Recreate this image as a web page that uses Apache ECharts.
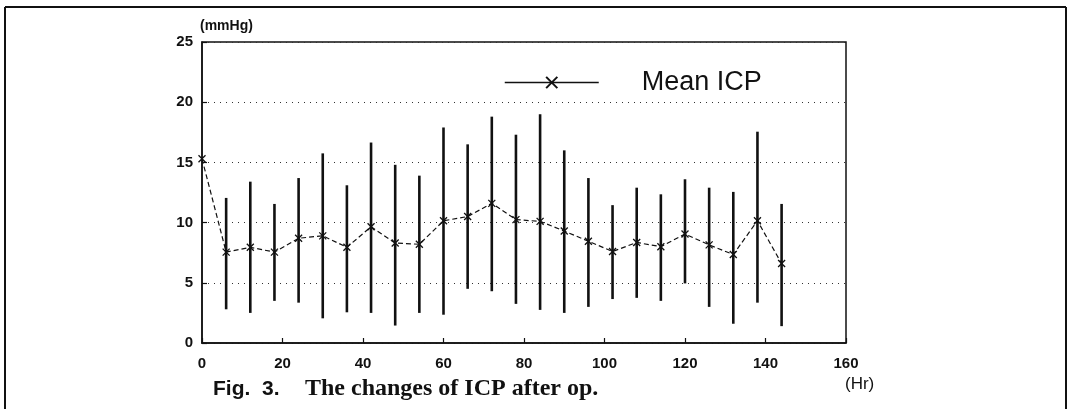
<!DOCTYPE html>
<html>
<head>
<meta charset="utf-8">
<script src="https://cdn.jsdelivr.net/npm/echarts@6/dist/echarts.min.js"></script>
<style>
html,body{margin:0;padding:0;background:#fff;}
#c{width:1069px;height:409px;}
</style>
</head>
<body>
<div id="c"></div>
<script>
// Hours after operation
const hours = [0, 6, 12, 18, 24, 30, 36, 42, 48, 54, 60, 66, 72, 78, 84, 90, 96, 102, 108, 114, 120, 126, 132, 138, 144];
// Mean ICP (mmHg)
const meanICP = [15.3, 7.55, 7.95, 7.55, 8.7, 8.9, 7.95, 9.65, 8.3, 8.2, 10.15, 10.5, 11.6, 10.25, 10.1, 9.3, 8.45, 7.6, 8.35, 8.0, 9.05, 8.15, 7.35, 10.15, 6.6];
// Range upper / lower (mmHg); null where no bar
const rangeHigh = [null, 12.05, 13.4, 11.55, 13.7, 15.75, 13.1, 16.65, 14.8, 13.9, 17.9, 16.5, 18.8, 17.3, 19.0, 16.0, 13.7, 11.45, 12.9, 12.35, 13.6, 12.9, 12.55, 17.55, 11.55];
const rangeLow  = [null, 2.8, 2.5, 3.5, 3.35, 2.05, 2.55, 2.5, 1.45, 2.5, 2.35, 4.5, 4.3, 3.25, 2.75, 2.5, 3.0, 3.65, 3.75, 3.5, 4.95, 3.0, 1.6, 3.35, 1.4];
const xTicks = [0, 20, 40, 60, 80, 100, 120, 140, 160];
const yTicks = [0, 5, 10, 15, 20, 25];

const meanData = hours.map((h, i) => [h, meanICP[i]]);
const rangeData = [];
hours.forEach((h, i) => { if (rangeHigh[i] != null) rangeData.push([h, rangeLow[i], rangeHigh[i]]); });

const chart = echarts.init(document.getElementById('c'));
const axisFont = {fontFamily: 'Liberation Sans, Arial, sans-serif', fontWeight: 'bold', fontSize: 15, color: '#111'};

chart.setOption({
  animation: false,
  backgroundColor: '#fff',
  grid: {left: 202, right: 223, top: 42, bottom: 66, show: true, borderColor: '#111', borderWidth: 1.5, backgroundColor: 'transparent'},
  xAxis: {
    type: 'value', min: xTicks[0], max: xTicks[xTicks.length - 1], interval: 20,
    axisLine: {show: true, lineStyle: {color: '#111', width: 1.5}},
    axisTick: {show: true, inside: true, length: 5, lineStyle: {color: '#111', width: 1.2}},
    axisLabel: Object.assign({margin: 13}, axisFont),
    splitLine: {show: false}
  },
  yAxis: {
    type: 'value', min: yTicks[0], max: yTicks[yTicks.length - 1], interval: 5,
    axisLine: {show: true, lineStyle: {color: '#111', width: 1.5}},
    axisTick: {show: true, inside: true, length: 5, lineStyle: {color: '#111', width: 1.2}},
    axisLabel: Object.assign({margin: 9}, axisFont),
    splitLine: {show: true, lineStyle: {color: '#333', width: 1, type: [1, 5]}}
  },
  legend: {
    data: ['Mean ICP'],
    left: 499, top: 64,
    itemWidth: 94, itemHeight: 14,
    lineStyle: {type: 'solid', width: 1.5, color: '#111'},
    textStyle: {fontFamily: 'Liberation Sans, Arial, sans-serif', fontSize: 27, color: '#111', padding: [0, 0, 0, 38]}
  },
  series: [
    {
      name: 'range', type: 'custom',
      data: rangeData,
      encode: {x: 0, y: [1, 2]},
      renderItem: function (params, api) {
        const p1 = api.coord([api.value(0), api.value(1)]);
        const p2 = api.coord([api.value(0), api.value(2)]);
        return {type: 'line', shape: {x1: p1[0], y1: p1[1], x2: p2[0], y2: p2[1]}, style: {stroke: '#111', lineWidth: 2.6}};
      },
      z: 2
    },
    {
      name: 'Mean ICP', type: 'line',
      data: meanData,
      symbol: 'path://M0,0L10,10M10,0L0,10',
      symbolSize: 7,
      itemStyle: {color: '#111', borderColor: '#111', borderWidth: 1.3},
      lineStyle: {color: '#111', width: 1.2, type: [5, 3]},
      z: 3
    }
  ],
  graphic: [
    {type: 'line', shape: {x1: 5, y1: 7, x2: 1066, y2: 7}, style: {stroke: '#111', lineWidth: 2}},
    {type: 'line', shape: {x1: 5, y1: 7, x2: 5, y2: 409}, style: {stroke: '#111', lineWidth: 2}},
    {type: 'line', shape: {x1: 1066, y1: 7, x2: 1066, y2: 409}, style: {stroke: '#111', lineWidth: 2}},
    {type: 'text', left: 200, top: 19, style: {text: '(mmHg)', font: 'bold 14px Liberation Sans, Arial, sans-serif', fill: '#111'}},
    {type: 'text', left: 845, top: 376, style: {text: '(Hr)', font: '17px Liberation Sans, Arial, sans-serif', fill: '#111'}},
    {type: 'text', left: 213, top: 379, style: {text: 'Fig.  3.', font: 'bold 21px Liberation Sans, Arial, sans-serif', fill: '#111'}},
    {type: 'text', left: 305, top: 377, style: {text: 'The changes of ICP after op.', font: 'bold 24px Liberation Serif, Times New Roman, serif', fill: '#111'}}
  ]
});
</script>
</body>
</html>
